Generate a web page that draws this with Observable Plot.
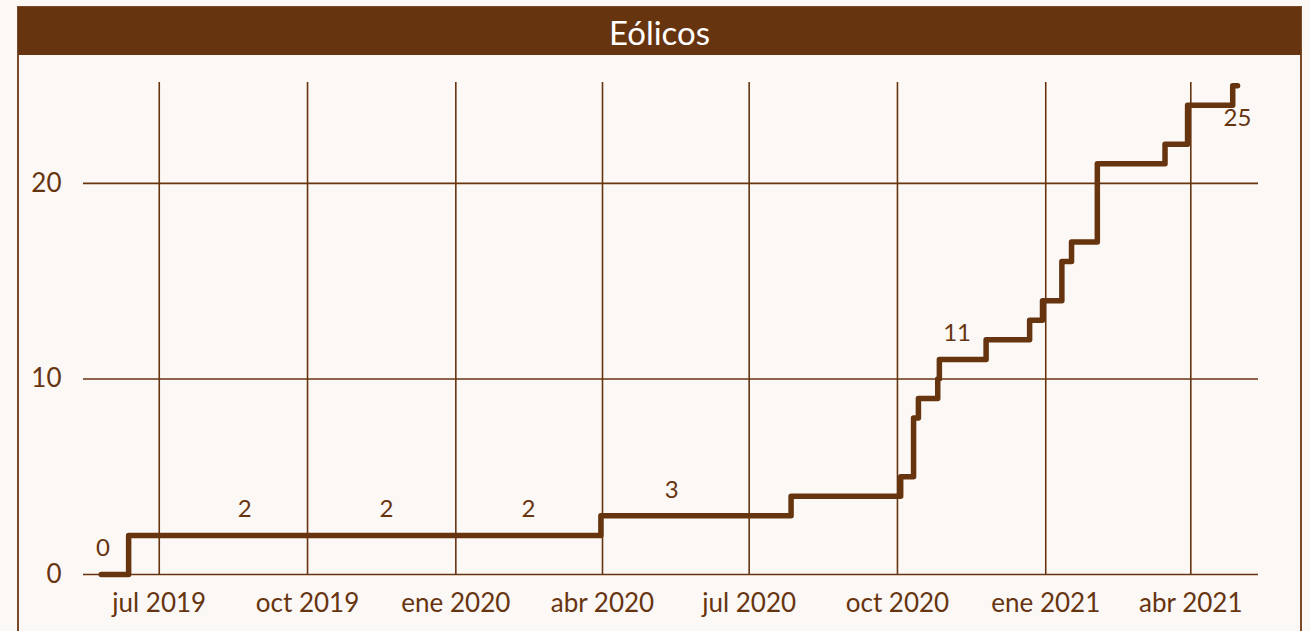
<!DOCTYPE html>
<html><head><meta charset="utf-8">
<script src="https://cdn.jsdelivr.net/npm/d3@7"></script>
<script src="https://cdn.jsdelivr.net/npm/@observablehq/plot@0.6"></script>
<style>
html,body{margin:0;padding:0;background:#fcf8f5;width:1310px;height:631px;overflow:hidden;font-family:Lato,sans-serif;}
#frame{position:absolute;left:17px;top:6px;width:1285px;height:700px;border:2px solid #7b4a28;box-sizing:border-box;}
#strip{position:absolute;left:18px;top:7px;width:1283px;height:48px;background:#673410;color:#fff;font-size:33px;line-height:50px;text-align:center;}
#chart{position:absolute;left:0;top:55px;}
</style></head><body>
<div id="frame"></div><div id="strip">Eólicos</div><div id="chart"></div>
<script>
// Step series: cumulative count
const stepDates = ["2019-05-26","2019-06-12","2020-03-31","2020-07-27","2020-10-03","2020-10-11","2020-10-14","2020-10-26","2020-10-27","2020-11-25","2020-12-22","2020-12-30","2021-01-11","2021-01-17","2021-02-02","2021-03-16","2021-03-30","2021-04-27","2021-04-30"];
const stepValues = [0,2,3,4,5,8,9,10,11,12,13,14,16,17,21,22,24,25,25];

// Point labels
const labelDates = ["2019-05-27","2019-08-23","2019-11-19","2020-02-15","2020-05-14","2020-11-07","2021-04-30"];
const labelValues = [0,2,2,2,3,11,25];
const labelBelow = [false,false,false,false,false,false,true];

// Axis ticks
const tickDates = ["2019-07-01","2019-10-01","2020-01-01","2020-04-01","2020-07-01","2020-10-01","2021-01-01","2021-04-01"];
const tickLabels = ["jul 2019","oct 2019","ene 2020","abr 2020","jul 2020","oct 2020","ene 2021","abr 2021"];
const yTicks = [0,10,20];
const xDomain = ["2019-05-15","2021-05-13"];
const yDomain = [0,25.16];

const parse = d3.utcParse("%Y-%m-%d");
const brown = "#673410";
const data = stepDates.map((d,i)=>({date: parse(d), value: stepValues[i]}));
const labels = labelDates.map((d,i)=>({date: parse(d), value: labelValues[i], text: String(labelValues[i]), below: labelBelow[i]}));
const ticks = tickDates.map(parse);

const chart = Plot.plot({
  width: 1310, height: 576,
  marginLeft: 83, marginRight: 52, marginTop: 27, marginBottom: 57,
  style: {background: "transparent", color: brown, fontFamily: "Lato, sans-serif", fontSize: "26px"},
  x: {type: "utc", domain: xDomain.map(parse), label: null},
  y: {domain: yDomain, label: null},
  marks: [
    Plot.ruleX(ticks, {stroke: brown, strokeWidth: 1.6}),
    Plot.ruleY(yTicks, {stroke: brown, strokeWidth: 1.6}),
    Plot.axisX({ticks: ticks, tickSize: 0, tickPadding: 19, fontSize: 26, fill: brown,
      tickFormat: d => tickLabels[ticks.findIndex(t => +t === +d)], label: null}),
    Plot.axisY({ticks: yTicks, tickSize: 0, tickPadding: 22, fontSize: 26, fill: brown, label: null}),
    Plot.line(data, {x: "date", y: "value", curve: "step-after", stroke: brown, strokeWidth: 5.5, strokeLinejoin: "round"}),
    Plot.text(labels.filter(d => !d.below), {x: "date", y: "value", text: "text", dy: -26, fontSize: 24, fill: brown}),
    Plot.text(labels.filter(d => d.below), {x: "date", y: "value", text: "text", dy: 33, fontSize: 24, fill: brown})
  ]
});
document.getElementById("chart").append(chart);
</script></body></html>
